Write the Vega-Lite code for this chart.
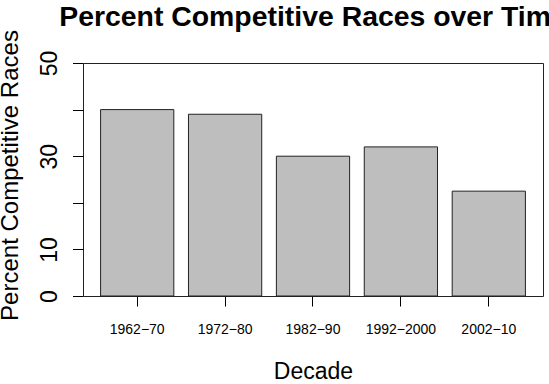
{
  "$schema": "https://vega.github.io/schema/vega-lite/v6.json",
  "width": 460,
  "height": 233,
  "autosize": {"type": "none"},
  "padding": {"left": 83, "top": 63, "right": 6, "bottom": 88},
  "background": "white",
  "title": {
    "text": "Percent Competitive Races over Time",
    "font": "Liberation Sans",
    "fontSize": 28.4,
    "fontWeight": "bold",
    "color": "black",
    "anchor": "middle",
    "frame": "group",
    "baseline": "alphabetic",
    "offset": -25
  },
  "data": {
    "values": [
      {"decade": "1962−70", "pct": 40},
      {"decade": "1972−80", "pct": 39},
      {"decade": "1982−90", "pct": 30},
      {"decade": "1992−2000", "pct": 32},
      {"decade": "2002−10", "pct": 22.5}
    ]
  },
  "mark": {"type": "bar", "fill": "#bebebe", "stroke": "#222222", "strokeWidth": 1},
  "encoding": {
    "x": {
      "field": "decade",
      "type": "nominal",
      "sort": null,
      "scale": {"paddingInner": 0.1667, "paddingOuter": 0.2},
      "axis": {
        "title": "Decade",
        "titleFont": "Liberation Sans",
        "titleFontSize": 23,
        "titleFontWeight": "normal",
        "titleColor": "black",
        "titleBaseline": "alphabetic",
        "titleY": 82,
        "titleX": 230,
        "labelAngle": 0,
        "labelFont": "Liberation Sans",
        "labelFontSize": 14,
        "labelColor": "black",
        "labelBaseline": "alphabetic",
        "labelPadding": 27.5,
        "tickSize": 10,
        "tickColor": "black",
        "tickWidth": 1,
        "domain": false,
        "grid": false
      }
    },
    "y": {
      "field": "pct",
      "type": "quantitative",
      "scale": {"domain": [0, 50], "nice": false, "zero": true},
      "axis": {
        "title": "Percent Competitive Races",
        "titleFont": "Liberation Sans",
        "titleFontSize": 24,
        "titleFontWeight": "normal",
        "titleColor": "black",
        "titleAngle": -90,
        "titleAlign": "center",
        "titleBaseline": "alphabetic",
        "titleX": -66,
        "titleY": 112,
        "values": [0, 10, 20, 30, 40, 50],
        "labelExpr": "datum.value == 20 || datum.value == 40 ? '' : datum.label",
        "labelAngle": -90,
        "labelAlign": "center",
        "labelBaseline": "alphabetic",
        "labelFont": "Liberation Sans",
        "labelFontSize": 23,
        "labelColor": "black",
        "labelPadding": 16.5,
        "tickSize": 10.5,
        "tickColor": "black",
        "tickWidth": 1,
        "domain": false,
        "grid": false
      }
    }
  },
  "config": {
    "view": {"stroke": "#222222", "strokeWidth": 1}
  }
}
